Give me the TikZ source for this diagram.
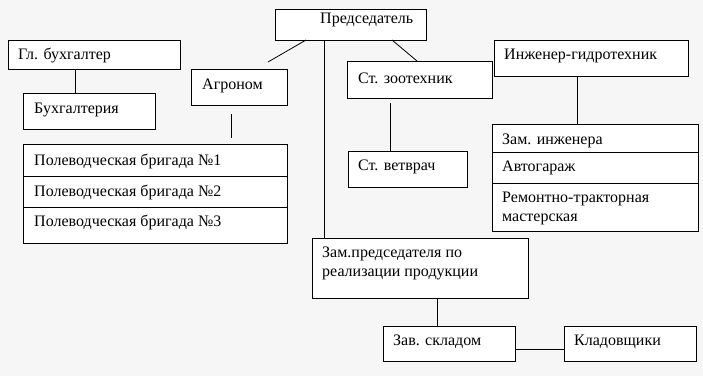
\documentclass[tikz,border=0pt]{standalone}
\usepackage{fontspec}
\setmainfont{Liberation Serif}
\definecolor{bgc}{RGB}{246,246,246}
\begin{document}
\begin{tikzpicture}[x=1pt,y=-1pt,
  box/.style={draw=black,fill=white,line width=0.8pt},
  lbl/.style={anchor=west,inner sep=0pt,font=\fontsize{16}{19}\selectfont,align=left},
  link/.style={draw=black,line width=0.8pt}]
\fill[bgc] (0,0) rectangle (703,376);
\useasboundingbox (0,0) rectangle (703,376);
% boxes
\draw[box] (275,9) rectangle (426,40);
\draw[box] (8,40) rectangle (180,69);
\draw[box] (23,93) rectangle (155,129);
\draw[box] (191,69) rectangle (287,105);
\draw[box] (23,144) rectangle (287,243);
\draw[link] (23,176) -- (287,176);
\draw[link] (23,207) -- (287,207);
\draw[box] (347,61) rectangle (492,98);
\draw[box] (348,151) rectangle (467,187);
\draw[box] (494,40) rectangle (688,76);
\draw[box] (492,124) rectangle (698,231);
\draw[link] (492,152) -- (698,152);
\draw[link] (492,183) -- (698,183);
\draw[box] (312,238) rectangle (528,298);
\draw[box] (383,326) rectangle (515,361);
\draw[box] (564,326) rectangle (696,361);
% labels
\node[lbl] (pred) at (320,20) {Председатель};
\node[lbl] (glbuh) at (18,55) {Гл. бухгалтер};
\node[lbl] (buh) at (34,110) {Бухгалтерия};
\node[lbl] (agr) at (202,86) {Агроном};
\node[lbl] (pb1) at (34,161) {Полеводческая бригада №1};
\node[lbl] (pb2) at (34,192) {Полеводческая бригада №2};
\node[lbl] (pb3) at (34,222) {Полеводческая бригада №3};
\node[lbl] (zoo) at (358,78) {Ст. зоотехник};
\node[lbl] (vet) at (358,167) {Ст. ветврач};
\node[lbl] (eng) at (504,56) {Инженер-гидротехник};
\node[lbl] (zeng) at (502,141) {Зам. инженера};
\node[lbl] (auto) at (502,168) {Автогараж};
\node[lbl] (rtm) at (502,208.5) {Ремонтно-тракторная\\мастерская};
\node[lbl] (zpred) at (322,263.5) {Зам.председателя по\\реализации продукции};
\node[lbl] (sklad) at (393,342) {Зав. складом};
\node[lbl] (klad) at (574,342) {Кладовщики};
% connectors
\coordinate (a1) at (306,40); \coordinate (a2) at (268,62);
\draw[link] (a1) -- (a2);
\coordinate (z1) at (392,40); \coordinate (z2) at (417,61);
\draw[link] (z1) -- (z2);
\coordinate (v1) at (324,40); \coordinate (v2) at (324,238);
\draw[link] (v1) -- (v2);
\coordinate (b1) at (75,69); \coordinate (b2) at (75,93);
\draw[link] (b1) -- (b2);
\coordinate (g1) at (231,114); \coordinate (g2) at (231,138);
\draw[link] (g1) -- (g2);
\coordinate (t1) at (390,103); \coordinate (t2) at (390,151);
\draw[link] (t1) -- (t2);
\coordinate (e1) at (577,76); \coordinate (e2) at (577,124);
\draw[link] (e1) -- (e2);
\coordinate (s1) at (437,298); \coordinate (s2) at (437,326);
\draw[link] (s1) -- (s2);
\coordinate (k1) at (515,349); \coordinate (k2) at (564,349);
\draw[link] (k1) -- (k2);
\end{tikzpicture}
\end{document}
